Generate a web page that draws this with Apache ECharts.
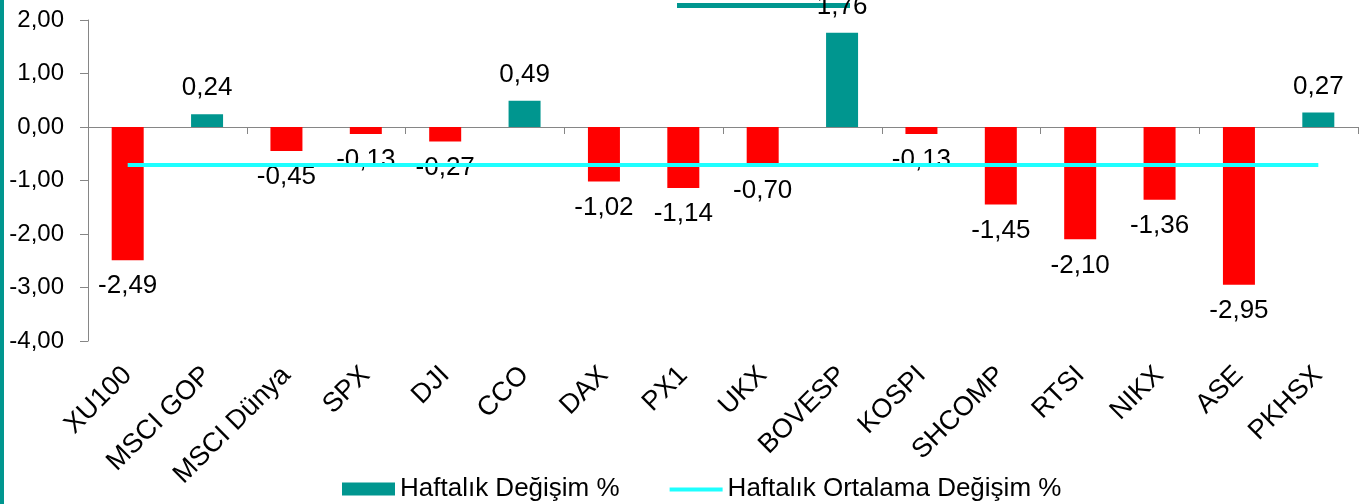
<!DOCTYPE html>
<html>
<head>
<meta charset="utf-8">
<script src="https://cdn.jsdelivr.net/npm/echarts@6/dist/echarts.min.js"></script>
<style>
  html, body { margin: 0; padding: 0; background: #fff; }
  #chart { width: 1365px; height: 504px; }
</style>
</head>
<body>
<div id="chart"></div>
<script>
// endeksler
var categories = ['XU100', 'MSCI GOP', 'MSCI Dünya', 'SPX', 'DJI', 'CCO', 'DAX', 'PX1', 'UKX', 'BOVESP', 'KOSPI', 'SHCOMP', 'RTSI', 'NIKX', 'ASE', 'PKHSX']
// haftalik degisim %
var weeklyChange = [-2.49, 0.24, -0.45, -0.13, -0.27, 0.49, -1.02, -1.14, -0.70, 1.76, -0.13, -1.45, -2.10, -1.36, -2.95, 0.27]
// haftalik ortalama degisim % (sabit cizgi)
var avgChange = [-0.71, -0.71, -0.71, -0.71, -0.71, -0.71, -0.71, -0.71, -0.71, -0.71, -0.71, -0.71, -0.71, -0.71, -0.71, -0.71]
var yTicks = [-4, -3, -2, -1, 0, 1, 2]

var teal = '#00968f'
var red = '#ff0000'
var cyan = '#1effff'
var font = '"Liberation Sans", Arial, sans-serif'
// ince cizgi ikonu (M noktalari kutuyu 53x13 tutar)
var lineIcon = 'path://M0,0L0,0M0,5L53,5L53,9L0,9ZM53,13L53,13'

function fmt(v) {
  return Number(v).toFixed(2).replace('.', ',')
}

var chart = echarts.init(document.getElementById('chart'))

var barData = weeklyChange.map(function (v) {
  return {
    value: v,
    itemStyle: { color: v >= 0 ? teal : red },
    label: { position: v >= 0 ? 'top' : 'bottom' }
  }
})

var option = {
  backgroundColor: '#ffffff',
  animation: false,
  textStyle: { fontFamily: font },
  grid: { left: 88, right: 7, top: 20, bottom: 163, containLabel: false },
  legend: {
    left: 337,
    top: 471,
    itemWidth: 53,
    itemHeight: 13,
    itemGap: 50,
    textStyle: { fontSize: 26, color: '#000', fontFamily: font },
    data: [
      { name: 'Haftalık Değişim %', icon: 'rect', itemStyle: { color: teal } },
      { name: 'Haftalık Ortalama Değişim %', icon: lineIcon, itemStyle: { color: cyan, borderWidth: 0 } }
    ]
  },
  xAxis: [
    {
      type: 'category',
      data: categories,
      position: 'bottom',
      boundaryGap: true,
      axisLine: { onZero: true, lineStyle: { color: '#868686', width: 1 } },
      axisTick: { show: true, length: 7, lineStyle: { color: '#868686' } },
      axisLabel: { show: false },
      splitLine: { show: false }
    },
    {
      type: 'category',
      data: categories,
      position: 'bottom',
      boundaryGap: true,
      axisLine: { show: false, onZero: false },
      axisTick: { show: false },
      axisLabel: {
        rotate: 45,
        margin: 30,
        interval: 0,
        fontSize: 27,
        color: '#000',
        fontFamily: font
      },
      splitLine: { show: false }
    }
  ],
  yAxis: {
    type: 'value',
    min: yTicks[0],
    max: yTicks[yTicks.length - 1],
    interval: 1,
    axisLine: { show: true, lineStyle: { color: '#868686', width: 1 } },
    axisTick: { show: true, length: 8, lineStyle: { color: '#868686' } },
    axisLabel: {
      margin: 24,
      fontSize: 24,
      color: '#000',
      fontFamily: font,
      formatter: fmt
    },
    splitLine: { show: false }
  },
  series: [
    {
      name: 'Haftalık Değişim %',
      type: 'bar',
      xAxisIndex: 0,
      barWidth: 32,
      itemStyle: { color: teal },
      label: {
        show: true,
        distance: 13,
        fontSize: 26,
        color: '#000',
        fontFamily: font,
        formatter: function (p) { return fmt(p.value) }
      },
      z: 2,
      data: barData
    },
    {
      name: 'Haftalık Ortalama Değişim %',
      type: 'line',
      xAxisIndex: 0,
      symbol: 'none',
      lineStyle: { color: cyan, width: 4 },
      itemStyle: { color: cyan },
      z: 3,
      data: avgChange
    }
  ],
  graphic: [
    // sol kenar cizgisi
    { type: 'rect', left: 0, top: 0, shape: { width: 4, height: 504 }, style: { fill: teal }, silent: true },
    // baslik alt cizgisi (kirpilmis)
    { type: 'rect', left: 677, top: 3, shape: { width: 173, height: 5 }, style: { fill: teal }, silent: true }
  ]
}

chart.setOption(option)
</script>
</body>
</html>
